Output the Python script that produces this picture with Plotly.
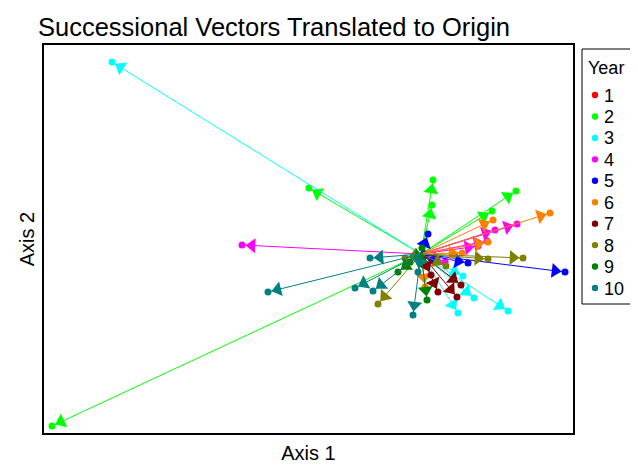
import math
import plotly.graph_objects as go

# Vector end points (Axis 1, Axis 2) for each year; all vectors start at origin
years = ["1", "2", "3", "4", "5", "6", "7", "8", "9", "10"]
colors = ["#FF0000", "#00FF00", "#00FFFF", "#FF00FF", "#0000FF",
          "#FF8000", "#800000", "#808000", "#008000", "#008080"]

y1_x = []
y1_y = []
y2_x = [-3.69, -1.12, 0.12, 0.11, 0.95, 0.71]
y2_y = [-1.72, 0.66, 0.74, 0.49, 0.63, 0.43]
y3_x = [-3.09, 0.87, 0.53, 0.37, 0.42]
y3_y = [1.92, -0.57, -0.44, -0.59, -0.22]
y4_x = [-1.79, 0.96, 0.74, 0.66, 0.57, 0.24]
y4_y = [0.09, 0.30, 0.24, 0.13, 0.08, -0.08]
y5_x = [1.44, 0.07, 0.47, 0.11]
y5_y = [-0.18, 0.20, -0.09, -0.06]
y6_x = [1.29, 0.72, 0.67, 0.41, 0.04]
y6_y = [0.41, 0.34, 0.12, 0.01, -0.33]
y7_x = [0.17, 0.36, 0.40, 0.10]
y7_y = [-0.38, -0.43, -0.31, -0.21]
y8_x = [1.02, 0.67, -0.43, 0.25, -0.16]
y8_y = [-0.04, -0.05, -0.50, -0.12, -0.04]
y9_x = [0.06, -0.23, -0.11, 0.01]
y9_y = [-0.46, -0.18, -0.08, 0.06]
y10_x = [-1.53, -0.66, -0.48, -0.51, -0.08, -0.03]
y10_y = [-0.38, -0.34, -0.37, -0.04, -0.61, -0.18]

ends_x = [y1_x, y2_x, y3_x, y4_x, y5_x, y6_x, y7_x, y8_x, y9_x, y10_x]
ends_y = [y1_y, y2_y, y3_y, y4_y, y5_y, y6_y, y7_y, y8_y, y9_y, y10_y]

fig = go.Figure()
for name, col, xs, ys in zip(years, colors, ends_x, ends_y):
    lx, ly, ax, ay, ang = [], [], [], [], []
    for x, y in zip(xs, ys):
        lx += [0, x, None]
        ly += [0, y, None]
        L = math.hypot(x, y)
        ux, uy = x / L, y / L
        ax.append(x - 0.1 * ux)
        ay.append(y - 0.1 * uy)
        ang.append(math.degrees(math.atan2(ux, uy)))
    fig.add_trace(go.Scatter(x=lx, y=ly, mode="lines", line=dict(color=col, width=1),
                             showlegend=False, legendgroup=name, hoverinfo="skip"))
    fig.add_trace(go.Scatter(x=ax, y=ay, mode="markers",
                             marker=dict(symbol="triangle-up", size=13, color=col, angle=ang),
                             showlegend=False, legendgroup=name, hoverinfo="skip"))
    fig.add_trace(go.Scatter(x=xs if xs else [None], y=ys if ys else [None], mode="markers",
                             marker=dict(symbol="circle", size=7, color=col),
                             name=name, legendgroup=name, showlegend=False))

# Page body has an 8px margin: lay out in window pixels and convert
OFF = 8
PL, PR, PT, PB = 44, 573, 45, 433          # plot frame in window pixels
W, H = 638 - OFF, 470 - OFF


def px_x(wx):
    return (wx - PL) / (PR - PL)


def px_y(wy):
    return (PB - wy) / (PB - PT)


font = "Liberation Sans, Arial, sans-serif"

# Legend box drawn as a framed key (Year / 1..10)
shapes = [dict(type="rect", xref="paper", yref="paper",
               x0=px_x(582), x1=px_x(634), y0=px_y(304), y1=px_y(49),
               line=dict(color="black", width=1), fillcolor="white", layer="above")]
annotations = [dict(text="Year", xref="paper", yref="paper", x=px_x(586), y=px_y(68),
                    xanchor="left", yanchor="middle", showarrow=False,
                    font=dict(size=18, family=font, color="black"))]
step = (288 - 95) / 9
for i, (name, col) in enumerate(zip(years, colors)):
    cy = 95 + i * step
    r = 3.2
    shapes.append(dict(type="circle", xref="paper", yref="paper",
                       x0=px_x(595 - r), x1=px_x(595 + r), y0=px_y(cy + r), y1=px_y(cy - r),
                       line=dict(color=col, width=0), fillcolor=col, layer="above"))
    annotations.append(dict(text=name, xref="paper", yref="paper", x=px_x(602), y=px_y(cy + 0.5),
                            xanchor="left", yanchor="middle", showarrow=False,
                            font=dict(size=18, family=font, color="black")))

fig.update_layout(
    width=W, height=H,
    margin=dict(l=PL - OFF, r=W - (PR - OFF), t=PT - OFF, b=H - (PB - OFF), autoexpand=False),
    paper_bgcolor="white", plot_bgcolor="white",
    font=dict(family=font, color="black"),
    title=dict(text="Successional Vectors Translated to Origin", font=dict(size=25.5, family=font),
               x=(274 - OFF) / W, xanchor="center", y=1 - (27 - OFF) / H, yanchor="middle"),
    xaxis=dict(range=[-3.77, 1.52], showgrid=False, zeroline=False, showticklabels=False,
               ticks="", showline=True, mirror=True, linecolor="black", linewidth=2,
               title=dict(text="Axis 1", font=dict(size=20), standoff=12)),
    yaxis=dict(range=[-1.79, 2.09], showgrid=False, zeroline=False, showticklabels=False,
               ticks="", showline=True, mirror=True, linecolor="black", linewidth=2,
               title=dict(text="Axis 2", font=dict(size=20), standoff=2)),
    shapes=shapes,
    annotations=annotations,
    showlegend=False,
)
fig.write_html("out.html")
